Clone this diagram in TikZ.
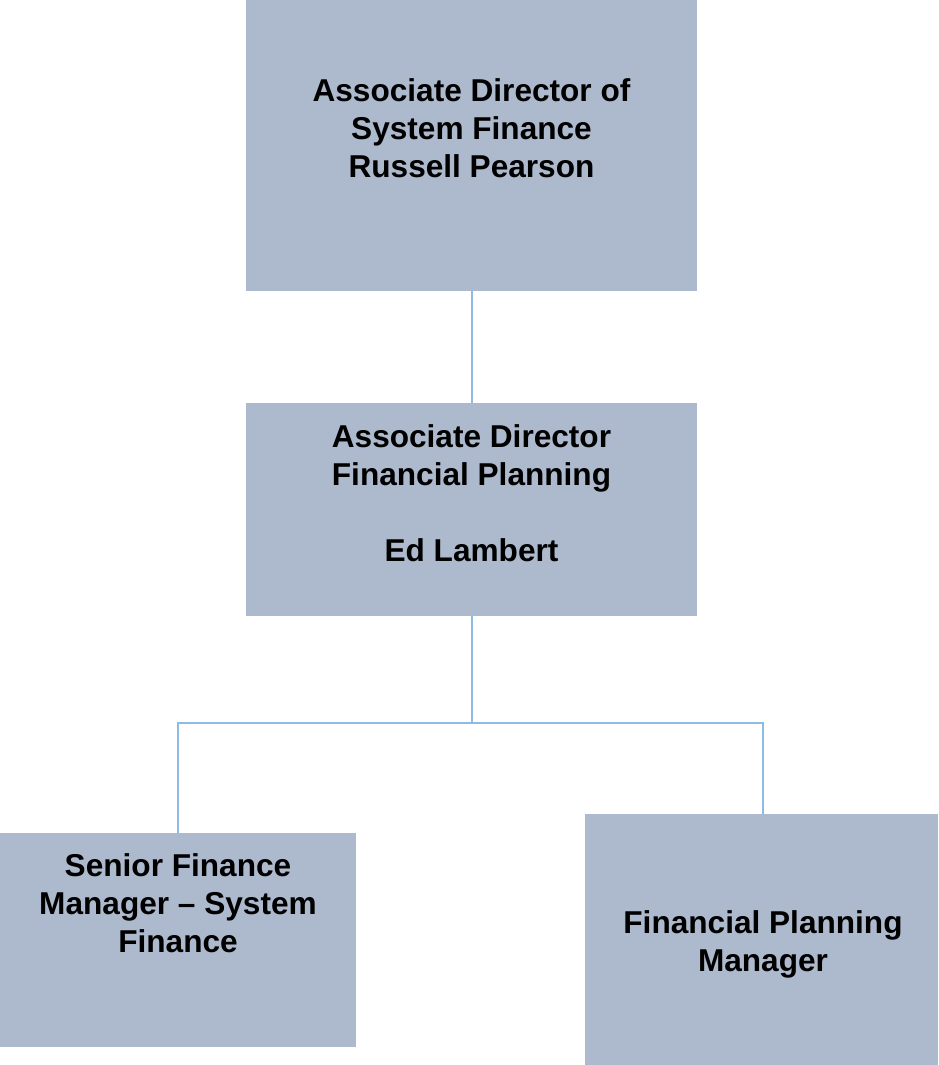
\documentclass[tikz,border=0pt]{standalone}
\usepackage{fontspec}
\setmainfont{Liberation Sans}
\usetikzlibrary{positioning}
\definecolor{boxfill}{HTML}{ADB9CC}
\definecolor{linkblue}{HTML}{8DBBE6}
\begin{document}
\begin{tikzpicture}[x=1pt,y=-1pt]
	\tikzstyle{post}=[rectangle,fill=boxfill,draw=none,inner sep=0pt]
	\tikzstyle{title}=[inner sep=0pt,align=center,font=\fontsize{31.6}{38}\selectfont\bfseries]
	\tikzstyle{link}=[draw=linkblue,line width=2pt]

	\useasboundingbox (0,0) rectangle (938,1065);

	\node[post,minimum width=451pt,minimum height=291pt] (TOP) at (471.5,145.5) {};
	\node[post,minimum width=451pt,minimum height=213pt] (MID) at (471.5,509.5) {};
	\node[post,minimum width=356pt,minimum height=214pt] (SFM) at (178,940) {};
	\node[post,minimum width=353pt,minimum height=251pt] (FPM) at (761.5,939.5) {};

	\node[title] (TOPTXT) at (471.5,128) {Associate Director of\\System Finance\\Russell Pearson};
	\node[title] (MIDTXT) at (471.5,493) {Associate Director\\Financial Planning\\[38pt]Ed Lambert};
	\node[title] (SFMTXT) at (178,903) {Senior Finance\\Manager -- System\\Finance};
	\node[title] (FPMTXT) at (763,944) {Financial Planning\\Manager};

	\coordinate (JOIN) at (471.5,723);

	\path[link]	(TOP) -- (MID)
				(MID) -- (JOIN)
				(JOIN) -| (SFM.north)
				(JOIN) -| ([xshift=1.5pt]FPM.north);

\end{tikzpicture}
\end{document}
